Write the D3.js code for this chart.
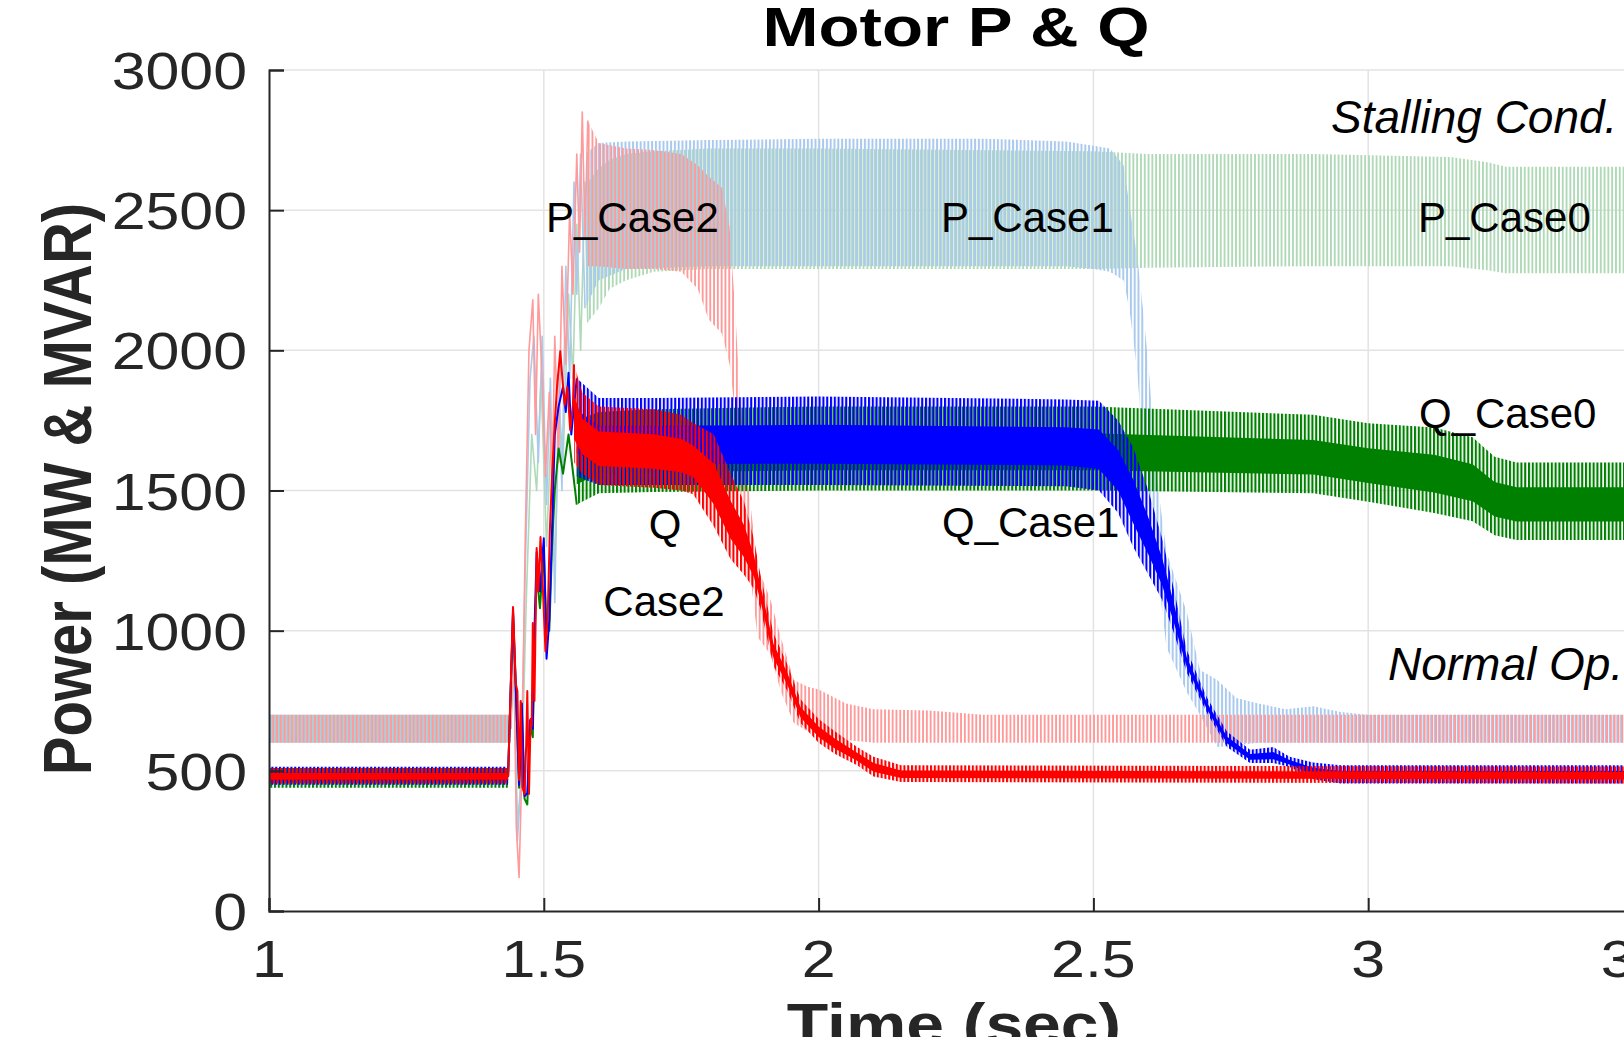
<!DOCTYPE html>
<html>
<head>
<meta charset="utf-8">
<script src="https://cdn.jsdelivr.net/npm/d3@7"></script>
<style>
  html, body { margin: 0; padding: 0; background: #fff; }
  svg { display: block; font-family: "Liberation Sans", Arial, Helvetica, sans-serif; }
</style>
</head>
<body>
<svg id="graph"></svg>
<script>
// axis ticks
var xTicks = [1, 1.5, 2, 2.5, 3, 3.5];
var yTicks = [0, 500, 1000, 1500, 2000, 2500, 3000];

// oscillation envelopes: [time, low, high]; null row = gap
var pCase0Band = [[1.0, 600, 700], [1.44, 600, 700], [1.44, null, null],
  [1.58, 2100, 2600], [1.6, 2150, 2650], [1.62, 2220, 2680], [1.65, 2250, 2700], [1.7, 2280, 2710],
  [1.8, 2290, 2720], [2.0, 2290, 2720], [2.5, 2290, 2710], [2.6, 2295, 2700], [2.9, 2300, 2700],
  [3.15, 2300, 2690], [3.22, 2285, 2670], [3.25, 2275, 2655], [3.5, 2275, 2655]];
var pCase1Band = [[1.0, 600, 700], [1.44, 600, 700], [1.44, null, null],
  [1.575, 2150, 2700], [1.6, 2250, 2740], [1.65, 2290, 2745], [1.8, 2300, 2750], [2.0, 2300, 2755],
  [2.3, 2300, 2755], [2.45, 2300, 2745], [2.5, 2290, 2730], [2.53, 2280, 2720], [2.555, 2250, 2660],
  [2.566, 2140, 2510], [2.58, 1920, 2330], [2.59, 1650, 2150], [2.6, 1450, 1950], [2.617, 1210, 1520],
  [2.633, 940, 1280], [2.67, 780, 1065], [2.694, 700, 860], [2.725, 585, 825], [2.76, 590, 760],
  [2.8, 600, 740], [2.85, 600, 720], [2.9, 600, 730], [2.95, 600, 710], [3.0, 600, 700], [3.5, 600, 700]];
var pCase2Band = [[1.0, 600, 700], [1.44, 600, 700], [1.44, null, null],
  [1.58, 2300, 2820], [1.6, 2300, 2740], [1.65, 2290, 2720], [1.7, 2290, 2715], [1.75, 2280, 2700],
  [1.78, 2220, 2660], [1.8, 2110, 2620], [1.824, 2060, 2580], [1.838, 1950, 2440], [1.848, 1780, 2150],
  [1.858, 1487, 1800], [1.87, 1295, 1551], [1.889, 977, 1231], [1.913, 913, 1106], [1.931, 785, 977],
  [1.955, 671, 824], [1.98, 640, 800], [2.0, 631, 790], [2.05, 610, 740], [2.1, 600, 720],
  [2.2, 600, 715], [2.3, 600, 700], [3.5, 600, 700]];
var qCase0Band = [[1.0, 440, 510], [1.435, 440, 510], [1.435, null, null],
  [1.56, 1450, 1750], [1.6, 1490, 1780], [1.7, 1495, 1790], [2.0, 1500, 1800], [2.5, 1500, 1800],
  [2.9, 1490, 1770], [3.0, 1460, 1740], [3.12, 1420, 1725], [3.19, 1390, 1690], [3.23, 1340, 1620],
  [3.27, 1323, 1600], [3.5, 1323, 1600]];
var qCase1Band = [[1.0, 450, 515], [1.435, 450, 515], [1.435, null, null],
  [1.56, 1550, 1900], [1.6, 1520, 1830], [1.7, 1520, 1830], [2.0, 1520, 1835], [2.45, 1515, 1825],
  [2.51, 1500, 1820], [2.545, 1420, 1750], [2.572, 1300, 1655], [2.6, 1200, 1500], [2.625, 1110, 1330],
  [2.645, 1000, 1160], [2.67, 850, 930], [2.707, 705, 760], [2.743, 585, 640], [2.785, 528, 575],
  [2.827, 528, 585], [2.857, 514, 550], [2.9, 470, 530], [2.95, 455, 520], [3.5, 455, 520]];
var qCase2Band = [[1.0, 455, 510], [1.435, 455, 510], [1.435, null, null],
  [1.555, 1600, 1950], [1.57, 1560, 1850], [1.6, 1520, 1800], [1.7, 1510, 1790], [1.75, 1500, 1770],
  [1.772, 1487, 1741], [1.809, 1373, 1701], [1.84, 1255, 1560], [1.864, 1200, 1462], [1.882, 1150, 1330],
  [1.894, 1080, 1200], [1.918, 874, 990], [1.943, 785, 880], [1.967, 671, 755], [2.0, 600, 685],
  [2.03, 560, 640], [2.07, 520, 585], [2.1, 480, 550], [2.15, 460, 520], [3.5, 455, 515]];

// fault transient traces: [time, value]
var pCase0Trace = [[1.44, 650], [1.445, 900], [1.452, 300], [1.46, 500], [1.468, 1100], [1.478, 1700],
  [1.487, 1500], [1.495, 1900], [1.505, 1300], [1.513, 1700], [1.52, 1200], [1.528, 1800], [1.535, 1600],
  [1.545, 2200], [1.553, 1900], [1.56, 2450], [1.567, 2000], [1.575, 2600], [1.58, 2100]];
var pCase1Trace = [[1.44, 650], [1.445, 950], [1.452, 250], [1.458, 450], [1.466, 1200], [1.475, 1900],
  [1.482, 2050], [1.49, 1600], [1.497, 2050], [1.505, 1450], [1.512, 1900], [1.52, 1100], [1.527, 1900],
  [1.533, 1500], [1.54, 2300], [1.547, 1900], [1.555, 2600], [1.56, 2200], [1.567, 2700], [1.575, 2150]];
var pCase2Trace = [[1.44, 650], [1.445, 1000], [1.45, 300], [1.455, 120], [1.46, 500], [1.466, 1300],
  [1.473, 2000], [1.48, 2180], [1.485, 1700], [1.49, 2200], [1.497, 1900], [1.503, 1550], [1.51, 1850],
  [1.515, 1500], [1.52, 2050], [1.527, 1600], [1.533, 2300], [1.54, 1950], [1.547, 2500], [1.553, 2200],
  [1.56, 2700], [1.565, 2350], [1.57, 2850], [1.575, 2400], [1.58, 2820]];
var qCase0Trace = [[1.435, 480], [1.444, 1060], [1.449, 800], [1.455, 440], [1.46, 720], [1.465, 400],
  [1.47, 380], [1.475, 660], [1.48, 620], [1.483, 960], [1.487, 1200], [1.493, 1080], [1.5, 1280],
  [1.505, 1000], [1.51, 1000], [1.515, 1300], [1.52, 1500], [1.527, 1650], [1.535, 1560], [1.545, 1700],
  [1.56, 1450]];
var qCase1Trace = [[1.435, 480], [1.444, 1070], [1.449, 800], [1.455, 450], [1.46, 740], [1.465, 410],
  [1.47, 420], [1.475, 680], [1.48, 650], [1.483, 1000], [1.487, 1280], [1.493, 1140], [1.5, 1330],
  [1.505, 900], [1.51, 1040], [1.515, 1360], [1.52, 1700], [1.527, 1800], [1.535, 1870], [1.54, 1780],
  [1.545, 1920], [1.55, 1700], [1.56, 1900]];
var qCase2Trace = [[1.435, 480], [1.444, 1084], [1.449, 811], [1.452, 785], [1.455, 467], [1.458, 749],
  [1.461, 442], [1.465, 417], [1.468, 596], [1.47, 785], [1.473, 417], [1.476, 685], [1.478, 660],
  [1.48, 1027], [1.483, 749], [1.487, 1295], [1.49, 1141], [1.494, 1334], [1.498, 1166], [1.503, 927],
  [1.507, 1041], [1.511, 1359], [1.515, 1551], [1.52, 1741], [1.524, 1869], [1.53, 1997], [1.534, 1894],
  [1.538, 1805], [1.543, 1869], [1.548, 1716], [1.553, 1805], [1.555, 1950]];

var textNotes = ["Stalling Cond.", "Normal Op.", "P_Case2", "P_Case1", "P_Case0", "Q_Case0", "Q_Case1", "Q", "Case2"];

document.addEventListener("DOMContentLoaded", function() {
  var width = 1624, height = 1037,
    svg = d3.select("#graph").attr("width", width).attr("height", height);

  var x = d3.scaleLinear().domain([1, 3.5]).range([269, 1643]),
    y = d3.scaleLinear().domain([0, 3000]).range([911, 70]);

  var defs = svg.append("defs");
  defs.append("clipPath").attr("id", "plotclip")
    .append("rect").attr("x", 269).attr("y", 70).attr("width", 1643 - 269).attr("height", 911 - 70);

  // grid
  var grid = svg.append("g").attr("stroke", "#e3e3e3").attr("stroke-width", 1.5);
  grid.selectAll("line.gx").data(xTicks.slice(1)).enter().append("line")
    .attr("x1", function(d) { return x(d); }).attr("x2", function(d) { return x(d); })
    .attr("y1", 70).attr("y2", 911);
  grid.selectAll("line.gy").data(yTicks.slice(1)).enter().append("line")
    .attr("x1", 269).attr("x2", 1643)
    .attr("y1", function(d) { return y(d); }).attr("y2", function(d) { return y(d); });

  // core: the solid middle part of a Q band (fraction of the band height), null for P
  var series = [
    {band: pCase0Band, trace: pCase0Trace, color: "#b0d9b8", lw: 1.9, off: 0, core: null},
    {band: pCase1Band, trace: pCase1Trace, color: "#a9c9ed", lw: 2.0, off: 1.3, core: null},
    {band: pCase2Band, trace: pCase2Trace, color: "#ff9a9a", lw: 1.9, off: 2.5, core: null},
    {band: qCase0Band, trace: qCase0Trace, color: "#008000", lw: 2.1, off: 0.4, core: [0.24, 0.68]},
    {band: qCase1Band, trace: qCase1Trace, color: "#0000ff", lw: 2.1, off: 1.6, core: [0.24, 0.68]},
    {band: qCase2Band, trace: qCase2Trace, color: "#ff0000", lw: 2.1, off: 2.8, core: [0.24, 0.68]}
  ];

  var period = 3.8;
  series.forEach(function(s, i) {
    var p = defs.append("pattern").attr("id", "hatch" + i)
      .attr("patternUnits", "userSpaceOnUse")
      .attr("x", s.off).attr("y", 0).attr("width", period).attr("height", 20);
    p.append("rect").attr("x", 0).attr("y", 0).attr("width", s.lw).attr("height", 20).attr("fill", s.color);
  });

  var plot = svg.append("g").attr("clip-path", "url(#plotclip)");

  var area = d3.area()
    .defined(function(d) { return d[1] != null; })
    .x(function(d) { return x(d[0]); })
    .y0(function(d) { return y(d[1]); })
    .y1(function(d) { return y(d[2]); });
  var line = d3.line()
    .x(function(d) { return x(d[0]); })
    .y(function(d) { return y(d[1]); });

  series.forEach(function(s, i) {
    plot.append("path").datum(s.band)
      .attr("d", area)
      .attr("fill", "url(#hatch" + i + ")");
    if (s.core) {
      var core = d3.area()
        .defined(function(d) { return d[1] != null; })
        .x(function(d) { return x(d[0]); })
        .y0(function(d) { return y(d[1] + (d[2] - d[1]) * s.core[0]); })
        .y1(function(d) { return y(d[1] + (d[2] - d[1]) * s.core[1]); });
      plot.append("path").datum(s.band)
        .attr("d", core)
        .attr("fill", s.color);
    }
    plot.append("path").datum(s.trace)
      .attr("d", line)
      .attr("fill", "none")
      .attr("stroke", s.color)
      .attr("stroke-width", i < 3 ? 1.6 : 2)
      .attr("stroke-linejoin", "round");
  });

  // axes, ticks pointing inward
  var axisCol = "#262626";
  svg.append("g").attr("transform", "translate(0,911)")
    .call(d3.axisBottom(x).tickValues(xTicks).tickSize(-13).tickFormat(""))
    .call(function(g) { g.selectAll("path, line").attr("stroke", axisCol).attr("stroke-width", 2); });
  svg.append("g").attr("transform", "translate(269,0)")
    .call(d3.axisLeft(y).tickValues(yTicks).tickSize(-15).tickFormat(""))
    .call(function(g) { g.selectAll("path, line").attr("stroke", axisCol).attr("stroke-width", 2); });

  // tick labels (the figure's fonts are horizontally stretched)
  var sx = 1.17;
  svg.append("g").selectAll("text").data(xTicks).enter().append("text")
    .attr("transform", function(d) { return "translate(" + x(d) + ",977) scale(" + sx + ",1)"; })
    .attr("text-anchor", "middle").attr("font-size", 52).attr("fill", axisCol)
    .text(function(d) { return d; });
  svg.append("g").selectAll("text").data(yTicks).enter().append("text")
    .attr("transform", function(d) { return "translate(247," + (y(d) + 19) + ") scale(" + sx + ",1)"; })
    .attr("text-anchor", "end").attr("font-size", 52).attr("fill", axisCol)
    .text(function(d) { return d; });

  svg.append("text")
    .attr("transform", "translate(956,46) scale(1.2,1)")
    .attr("text-anchor", "middle").attr("font-size", 56).attr("font-weight", "bold").attr("fill", "#000")
    .text("Motor P & Q");
  svg.append("text")
    .attr("transform", "translate(954,1044) scale(" + sx + ",1)")
    .attr("text-anchor", "middle").attr("font-size", 58).attr("font-weight", "bold").attr("fill", axisCol)
    .text("Time (sec)");
  svg.append("text")
    .attr("transform", "translate(91,489) scale(" + sx + ",1) rotate(-90)")
    .attr("text-anchor", "middle").attr("font-size", 58).attr("font-weight", "bold").attr("fill", axisCol)
    .text("Power (MW & MVAR)");

  // annotations
  var notes = [
    {t: textNotes[0], x: 1331, y: 133, size: 46, italic: true},
    {t: textNotes[1], x: 1388, y: 680, size: 46, italic: true},
    {t: textNotes[2], x: 546, y: 232, size: 42},
    {t: textNotes[3], x: 941, y: 232, size: 42},
    {t: textNotes[4], x: 1418, y: 232, size: 42},
    {t: textNotes[5], x: 1419, y: 428, size: 42},
    {t: textNotes[6], x: 942, y: 537, size: 42},
    {t: textNotes[7], x: 665, y: 539, size: 42, mid: true},
    {t: textNotes[8], x: 664, y: 616, size: 42, mid: true}
  ];
  svg.append("g").selectAll("text").data(notes).enter().append("text")
    .attr("x", function(d) { return d.x; }).attr("y", function(d) { return d.y; })
    .attr("text-anchor", function(d) { return d.mid ? "middle" : "start"; })
    .attr("font-size", function(d) { return d.size; })
    .attr("font-style", function(d) { return d.italic ? "italic" : "normal"; })
    .attr("fill", "#000")
    .text(function(d) { return d.t; });
});
</script>
</body>
</html>
